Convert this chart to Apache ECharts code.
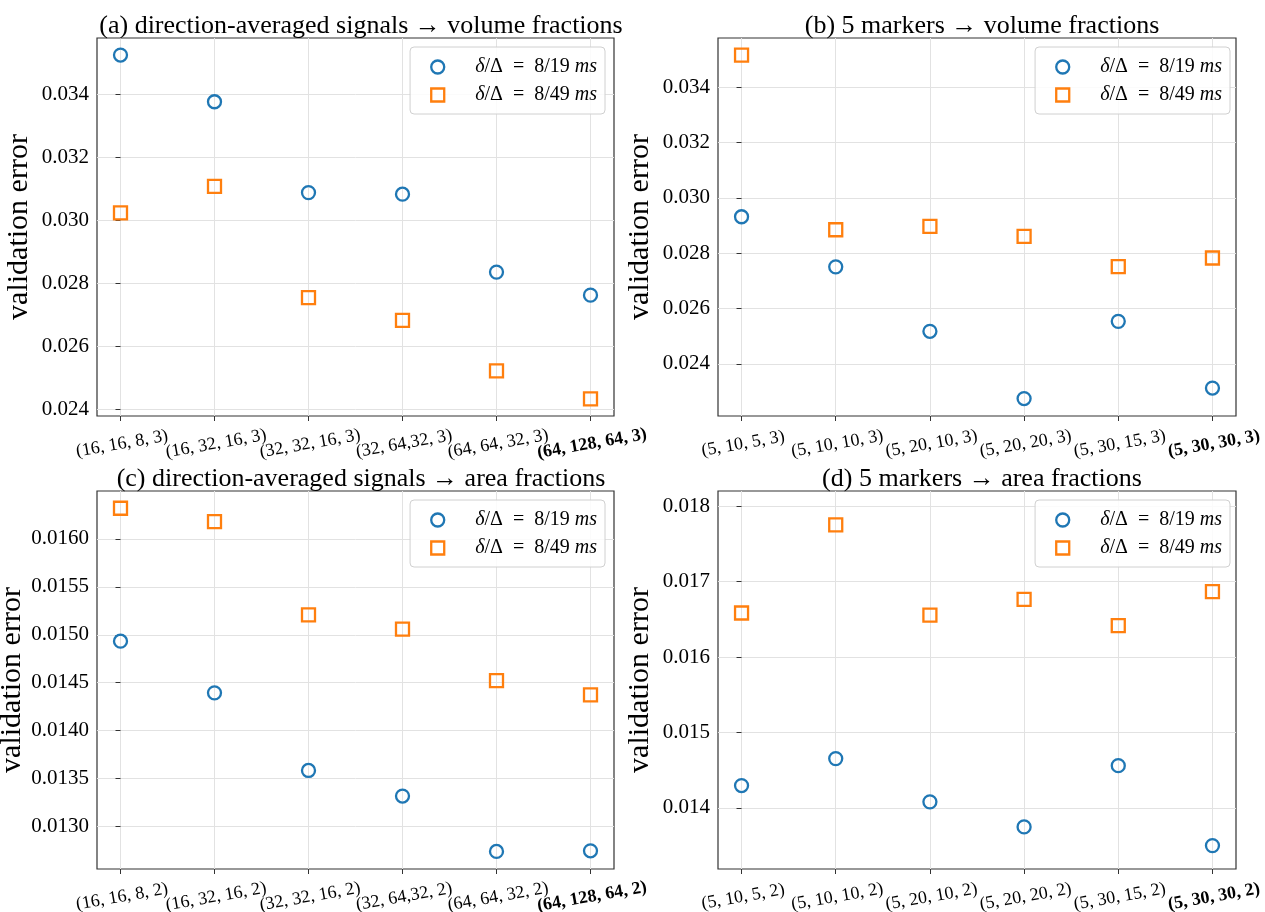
<!DOCTYPE html>
<html>
<head>
<meta charset="utf-8">
<script src="https://cdn.jsdelivr.net/npm/echarts@6/dist/echarts.min.js"></script>
<style>
html,body{margin:0;padding:0;background:#fff;}
#chart{width:1265px;height:912px;}
</style>
</head>
<body>
<div id="chart"></div>
<script>
// ---- data ----
const titles = [
  '(a) direction-averaged signals \u2192 volume fractions',
  '(b) 5 markers \u2192 volume fractions',
  '(c) direction-averaged signals \u2192 area fractions',
  '(d) 5 markers \u2192 area fractions'
];
const categoriesA = ['(16, 16, 8, 3)', '(16, 32, 16, 3)', '(32, 32, 16, 3)', '(32, 64,32, 3)', '(64, 64, 32, 3)', '(64, 128, 64, 3)'];
const categoriesB = ['(5, 10, 5, 3)', '(5, 10, 10, 3)', '(5, 20, 10, 3)', '(5, 20, 20, 3)', '(5, 30, 15, 3)', '(5, 30, 30, 3)'];
const categoriesC = ['(16, 16, 8, 2)', '(16, 32, 16, 2)', '(32, 32, 16, 2)', '(32, 64,32, 2)', '(64, 64, 32, 2)', '(64, 128, 64, 2)'];
const categoriesD = ['(5, 10, 5, 2)', '(5, 10, 10, 2)', '(5, 20, 10, 2)', '(5, 20, 20, 2)', '(5, 30, 15, 2)', '(5, 30, 30, 2)'];

const blueA   = [0.03524, 0.03376, 0.03088, 0.03083, 0.02836, 0.02763];
const orangeA = [0.03024, 0.03108, 0.02755, 0.02683, 0.02523, 0.02434];
const blueB   = [0.02932, 0.02751, 0.02518, 0.02275, 0.02554, 0.02313];
const orangeB = [0.03516, 0.02885, 0.02897, 0.02861, 0.02752, 0.02783];
const blueC   = [0.014933, 0.014394, 0.013584, 0.013317, 0.012739, 0.012746];
const orangeC = [0.016320, 0.016180, 0.015207, 0.015058, 0.014522, 0.014373];
const blueD   = [0.014296, 0.014653, 0.014080, 0.013748, 0.014560, 0.013500];
const orangeD = [0.016583, 0.017752, 0.016556, 0.016763, 0.016415, 0.016865];

const yTicksA = [0.024, 0.026, 0.028, 0.030, 0.032, 0.034];
const yTicksB = [0.024, 0.026, 0.028, 0.030, 0.032, 0.034];
const yTicksC = [0.0130, 0.0135, 0.0140, 0.0145, 0.0150, 0.0155, 0.0160];
const yTicksD = [0.014, 0.015, 0.016, 0.017, 0.018];

const seriesNames = ['s19', 's49'];
const legendLabels = {
  s19: '{i|\u03b4}/\u0394\u2002=\u20028/19 {i|ms}',
  s49: '{i|\u03b4}/\u0394\u2002=\u20028/49 {i|ms}'
};
const yAxisName = 'validation error';
const boldIndex = 5; // selected architecture shown in bold

// ---- layout / style ----
const FONT = 'Liberation Serif';
const BLUE = '#1f77b4', ORANGE = '#ff7f0e';
const panels = [
  {cats: categoriesA, blue: blueA, orange: orangeA, ticks: yTicksA, dec: 3, min: 0.02380, max: 0.03578, left: 97,  top: 38,  w: 517, legendRight: 660, legendTop: 47, titleX: 356, titleTop: 8},
  {cats: categoriesB, blue: blueB, orange: orangeB, ticks: yTicksB, dec: 3, min: 0.02212, max: 0.03578, left: 718, top: 38,  w: 518, legendRight: 35,  legendTop: 47, titleX: 977, titleTop: 8},
  {cats: categoriesC, blue: blueC, orange: orangeC, ticks: yTicksC, dec: 4, min: 0.012556, max: 0.01650, left: 97,  top: 491, w: 517, legendRight: 660, legendTop: 500, titleX: 356, titleTop: 461},
  {cats: categoriesD, blue: blueD, orange: orangeD, ticks: yTicksD, dec: 3, min: 0.01319, max: 0.01820, left: 718, top: 491, w: 518, legendRight: 35,  legendTop: 500, titleX: 977, titleTop: 461}
];
const H = 378;

const option = {
  animation: false,
  backgroundColor: '#ffffff',
  title: [], grid: [], xAxis: [], yAxis: [], series: [], legend: []
};
const xIdx = [0, 1, 2, 3, 4, 5];
const evenIdx = xIdx.filter(i => i % 2 === 0);
const oddIdx = xIdx.filter(i => i % 2 === 1);

panels.forEach((p, k) => {
  option.title.push({
    text: titles[k], left: p.titleX, top: p.titleTop, textAlign: 'center',
    textStyle: {fontFamily: FONT, fontSize: 26, fontWeight: 'normal', color: '#000'}
  });
  option.grid.push({
    left: p.left, top: p.top, width: p.w, height: H,
    outerBoundsMode: 'none', containLabel: false,
    show: true, borderColor: '#333', borderWidth: 1.2, backgroundColor: '#fff'
  });
  const labelBase = {
    rotate: 10, align: 'center', verticalAlign: 'top', margin: 19,
    showMinLabel: true, showMaxLabel: true, hideOverlap: false,
    fontFamily: FONT, fontSize: 18, color: '#000',
    formatter: v => {
      const i = Math.round(v);
      return i === boldIndex ? '{b|' + p.cats[i] + '}' : p.cats[i];
    },
    rich: {b: {fontFamily: FONT, fontSize: 18, fontWeight: 'bold', color: '#000'}}
  };
  // main x axis: ticks, grid lines, labels of even positions
  option.xAxis.push({
    type: 'value', gridIndex: k, min: -0.25, max: 5.25, position: 'bottom',
    axisLine: {show: false},
    axisTick: {show: true, customValues: xIdx, length: 5, lineStyle: {color: '#333', width: 1}},
    splitLine: {show: true, lineStyle: {color: '#e2e2e2', width: 1}},
    axisLabel: Object.assign({}, labelBase, {customValues: evenIdx})
  });
  // overlay x axis (same scale) carrying labels of odd positions
  option.xAxis.push({
    type: 'value', gridIndex: k, min: -0.25, max: 5.25, position: 'bottom', offset: 0,
    axisLine: {show: false}, axisTick: {show: false}, splitLine: {show: false},
    axisLabel: Object.assign({}, labelBase, {customValues: oddIdx})
  });
  option.yAxis.push({
    type: 'value', gridIndex: k, min: p.min, max: p.max,
    name: yAxisName, nameLocation: 'middle', nameGap: 63,
    nameTextStyle: {fontFamily: FONT, fontSize: 30, color: '#000'},
    axisLine: {show: false},
    axisTick: {show: true, customValues: p.ticks, length: 5, lineStyle: {color: '#333', width: 1}},
    splitLine: {show: true, lineStyle: {color: '#e2e2e2', width: 1}},
    axisLabel: {
      customValues: p.ticks, margin: 8, showMinLabel: true, showMaxLabel: true,
      fontFamily: FONT, fontSize: 21, color: '#000',
      formatter: v => v.toFixed(p.dec)
    }
  });
  option.series.push({
    name: seriesNames[0], type: 'scatter', xAxisIndex: 2 * k, yAxisIndex: k,
    symbol: 'circle', symbolSize: 13,
    itemStyle: {color: 'rgba(255,255,255,0)', borderColor: BLUE, borderWidth: 2.3, opacity: 1},
    data: p.blue.map((v, i) => [xIdx[i], v]), z: 3
  });
  option.series.push({
    name: seriesNames[1], type: 'scatter', xAxisIndex: 2 * k, yAxisIndex: k,
    symbol: 'rect', symbolSize: 13,
    itemStyle: {color: 'rgba(255,255,255,0)', borderColor: ORANGE, borderWidth: 2.3, opacity: 1},
    data: p.orange.map((v, i) => [xIdx[i], v]), z: 3
  });
  option.legend.push({
    orient: 'vertical', right: p.legendRight, top: p.legendTop,
    padding: [10, 8, 9, 20], itemGap: 8, itemWidth: 13, itemHeight: 13,
    backgroundColor: 'rgba(255,255,255,0.85)', borderColor: '#d0d0d0', borderWidth: 1, borderRadius: 4,
    selectedMode: false,
    data: [
      {name: seriesNames[0], icon: 'circle', itemStyle: {color: 'rgba(255,255,255,0)', borderColor: BLUE, borderWidth: 2.3}},
      {name: seriesNames[1], icon: 'rect', itemStyle: {color: 'rgba(255,255,255,0)', borderColor: ORANGE, borderWidth: 2.3}}
    ],
    formatter: n => legendLabels[n],
    textStyle: {
      fontFamily: FONT, fontSize: 20, color: '#000', padding: [0, 0, 0, 26],
      rich: {i: {fontFamily: FONT, fontSize: 20, fontStyle: 'italic', color: '#000'}}
    }
  });
});

const chart = echarts.init(document.getElementById('chart'), null, {renderer: 'canvas'});
chart.setOption(option);
</script>
</body>
</html>
